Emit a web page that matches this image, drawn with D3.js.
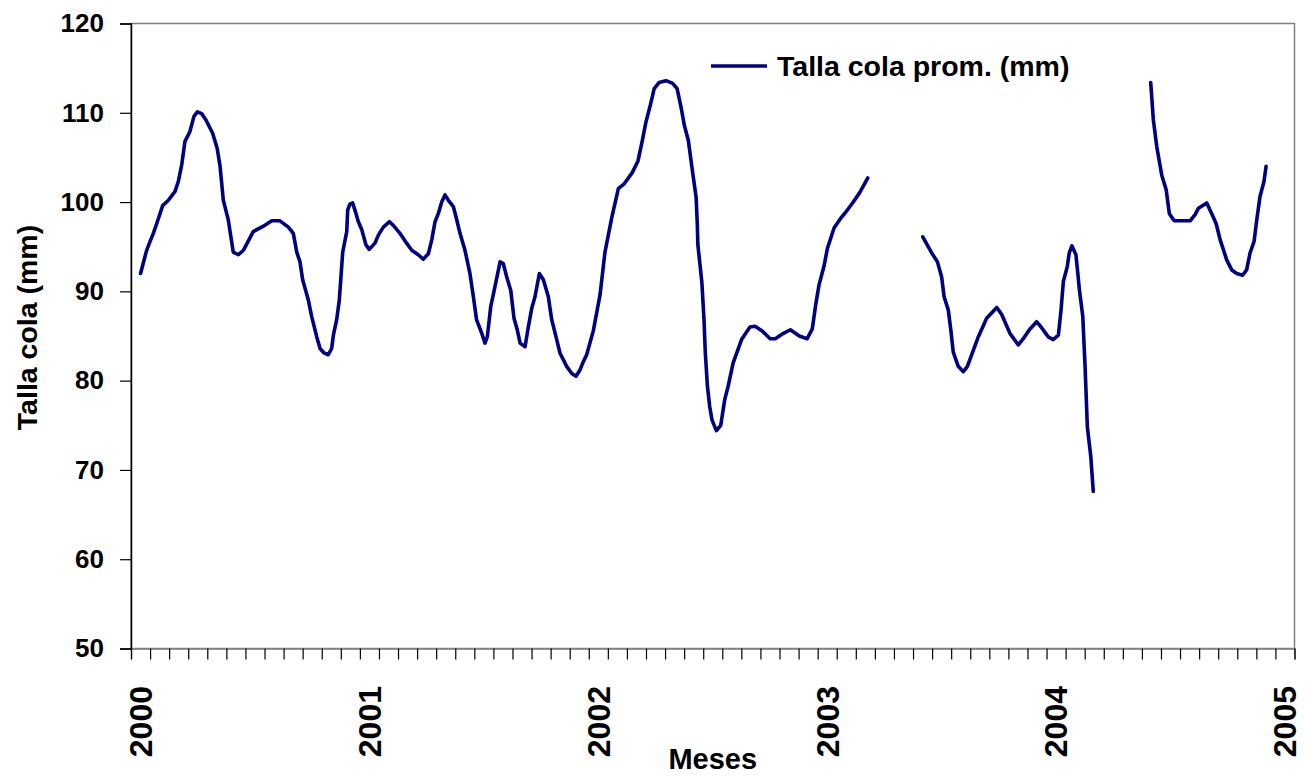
<!DOCTYPE html>
<html>
<head>
<meta charset="utf-8">
<script src="https://cdn.jsdelivr.net/npm/d3@7"></script>
<style>
  html, body { margin: 0; padding: 0; background: #fff; }
  svg { display: block; }
  text { font-family: "Liberation Sans", Arial, sans-serif; font-weight: bold; fill: #000; }
</style>
</head>
<body>
<svg id="chart" width="1308" height="776"></svg>
<script>
// ---- Data (months since Jan 2000; null = gap in the series) ----
const mes = [
  0.00,0.32,0.50,0.67,0.85,1.16,1.46,1.81,1.98,2.16,2.33,2.59,2.80,2.98,3.21,3.43,3.78,4.02,4.17,4.34,
  4.60,4.86,5.13,5.39,5.91,6.44,6.88,7.31,7.75,8.01,8.19,8.36,8.50,8.80,8.97,9.24,9.41,9.62,9.84,10.02,
  10.11,10.28,10.42,10.60,10.81,10.86,10.98,11.12,11.24,11.42,11.60,11.82,11.99,12.29,12.47,12.73,13.04,13.25,13.60,13.95,
  14.22,14.56,14.82,15.09,15.27,15.44,15.61,15.79,15.96,16.14,16.40,16.58,16.75,17.01,17.27,17.45,17.62,17.89,18.06,18.18,
  18.36,18.58,18.85,19.02,19.20,19.41,19.58,19.75,19.90,20.16,20.33,20.51,20.68,20.91,21.12,21.38,21.56,21.82,21.99,22.34,
  22.61,22.83,23.04,23.21,23.39,23.74,24.09,24.35,24.70,25.05,25.34,25.78,26.08,26.31,26.49,26.72,26.93,27.19,27.55,27.90,
  28.13,28.34,28.51,28.72,28.96,29.13,29.19,29.22,29.43,29.54,29.61,29.72,29.84,29.96,30.19,30.42,30.63,30.81,31.07,31.51,
  31.95,32.22,32.57,33.01,33.28,33.63,34.07,34.54,34.95,35.22,35.39,35.57,35.84,36.01,36.36,36.71,36.95,37.33,37.69,38.13,
  null,
  41.01,41.48,41.78,42.00,42.13,42.35,42.48,42.61,42.87,43.14,43.35,43.66,43.92,44.36,44.89,45.15,45.58,46.02,46.28,46.60,
  46.98,47.25,47.59,47.85,48.12,48.26,48.38,48.59,48.69,48.83,49.04,49.16,49.22,49.40,49.52,49.64,49.82,49.95,
  null,
  52.96,53.10,53.28,53.54,53.77,53.94,54.19,55.03,55.29,55.46,55.90,56.16,56.39,56.60,56.95,57.21,57.47,57.78,57.99,58.17,
  58.38,58.52,58.69,58.90,59.01
];
const talla = [
  92.0,94.6,95.6,96.5,97.6,99.6,100.2,101.2,102.3,104.2,106.8,107.9,109.6,110.1,109.9,109.2,107.7,106.0,104.0,100.2,
  98.0,94.4,94.1,94.6,96.7,97.3,97.9,97.9,97.2,96.5,94.4,93.3,91.3,89.0,87.2,84.9,83.6,83.1,82.9,83.6,
  85.1,86.8,89.0,94.4,96.7,99.1,99.8,99.9,99.1,97.8,96.9,95.2,94.7,95.4,96.3,97.2,97.8,97.4,96.5,95.4,
  94.6,94.1,93.6,94.2,95.8,97.8,98.7,100.0,100.8,100.2,99.5,98.0,96.5,94.6,92.0,89.4,86.8,85.3,84.2,84.9,
  88.3,90.5,93.3,93.1,91.6,90.1,87.0,85.7,84.2,83.8,86.0,88.1,89.4,92.0,91.3,89.4,86.8,84.6,83.1,81.6,
  80.8,80.5,81.2,82.1,82.9,85.6,89.6,94.4,98.2,101.5,102.0,103.3,104.6,106.9,108.9,110.8,112.7,113.4,113.6,113.3,
  112.7,110.6,108.6,106.9,103.1,100.5,97.5,95.2,91.0,86.9,83.1,79.4,77.1,75.6,74.4,75.0,77.9,79.4,82.0,84.6,
  86.0,86.1,85.6,84.7,84.7,85.2,85.7,85.0,84.7,85.8,88.4,90.7,92.9,94.8,97.1,98.2,98.8,99.9,101.0,102.7,
  null,
  96.1,94.3,93.3,91.6,89.4,87.9,85.7,83.2,81.6,81.0,81.6,83.4,84.9,87.0,88.2,87.4,85.3,84.0,84.7,85.7,
  86.6,85.9,84.9,84.6,85.1,87.9,91.1,92.8,94.3,95.1,94.1,91.6,90.2,87.2,81.6,74.8,71.5,67.6,
  null,
  113.4,109.2,106.2,103.0,101.4,98.7,97.9,97.9,98.6,99.3,99.9,98.7,97.6,95.8,93.5,92.4,92.0,91.8,92.4,94.3,
  95.6,98.0,100.6,102.3,104.0
];
const yTicks = [50, 60, 70, 80, 90, 100, 110, 120];
const yearLabels = ["2000", "2001", "2002", "2003", "2004", "2005"];
const nCategories = 61; // Jan 2000 .. Jan 2005
const seriesName = "Talla cola prom. (mm)";
const yTitle = "Talla cola (mm)";
const xTitle = "Meses";

// ---- Layout ----
const plot = { left: 131, right: 1294.5, top: 23.5, bottom: 648.5 };
const lineColor = "#000080";

const svg = d3.select("#chart");

const x = d3.scaleLinear().domain([-0.5, nCategories - 0.5]).range([plot.left, plot.right]);
const y = d3.scaleLinear().domain([50, 120]).range([plot.bottom, plot.top]);

// plot frame (top & right gray)
svg.append("rect")
  .attr("x", plot.left).attr("y", plot.top)
  .attr("width", plot.right - plot.left).attr("height", plot.bottom - plot.top)
  .attr("fill", "none").attr("stroke", "#808080").attr("stroke-width", 1.5);

// x axis: ticks at category boundaries
const boundaries = d3.range(nCategories + 1).map(i => i - 0.5);
const xAxis = svg.append("g")
  .attr("transform", `translate(0,${plot.bottom})`)
  .call(d3.axisBottom(x).tickValues(boundaries).tickSize(11).tickFormat(""));
xAxis.select(".domain").attr("stroke", "#808080").attr("stroke-width", 1.5);
xAxis.selectAll(".tick line").attr("stroke", "#000").attr("stroke-width", 1.2);

// year labels centered on Jan category of each year
svg.append("g").selectAll("text").data(yearLabels).join("text")
  .attr("transform", (d, i) => `translate(${x(i * 12) + 11.4},686) rotate(-90)`)
  .attr("text-anchor", "end")
  .style("font-size", "32px")
  .text(d => d);

// y axis
const yAxis = svg.append("g")
  .attr("transform", `translate(${plot.left},0)`)
  .call(d3.axisLeft(y).tickValues(yTicks).tickSize(11).tickPadding(16).tickFormat(d3.format("d")));
yAxis.select(".domain").attr("stroke", "#000").attr("stroke-width", 1.5);
yAxis.selectAll(".tick line").attr("stroke", "#000").attr("stroke-width", 1.2);
yAxis.selectAll(".tick text")
  .style("font-size", "26px")
  .style("font-family", "'Liberation Sans', Arial, sans-serif")
  .style("font-weight", "bold")
  .attr("fill", "#000");

// series line
const pts = mes.map((m, i) => ({ m, v: talla[i] }));
const line = d3.line()
  .defined(d => d.m !== null && d.v !== null)
  .x(d => x(d.m))
  .y(d => y(d.v));
svg.append("path")
  .datum(pts)
  .attr("d", line)
  .attr("fill", "none")
  .attr("stroke", lineColor)
  .attr("stroke-width", 3.6)
  .attr("stroke-linejoin", "round")
  .attr("stroke-linecap", "round");

// legend
svg.append("line")
  .attr("x1", 711).attr("x2", 767).attr("y1", 66).attr("y2", 66)
  .attr("stroke", lineColor).attr("stroke-width", 3.6);
svg.append("text")
  .attr("x", 777).attr("y", 75.7)
  .style("font-size", "28.5px")
  .text(seriesName);

// axis titles
svg.append("text")
  .attr("transform", `translate(37,327.5) rotate(-90)`)
  .attr("text-anchor", "middle")
  .style("font-size", "28.5px")
  .text(yTitle);

svg.append("text")
  .attr("x", (plot.left + plot.right) / 2).attr("y", 769.3)
  .attr("text-anchor", "middle")
  .style("font-size", "29px")
  .text(xTitle);
</script>
</body>
</html>
